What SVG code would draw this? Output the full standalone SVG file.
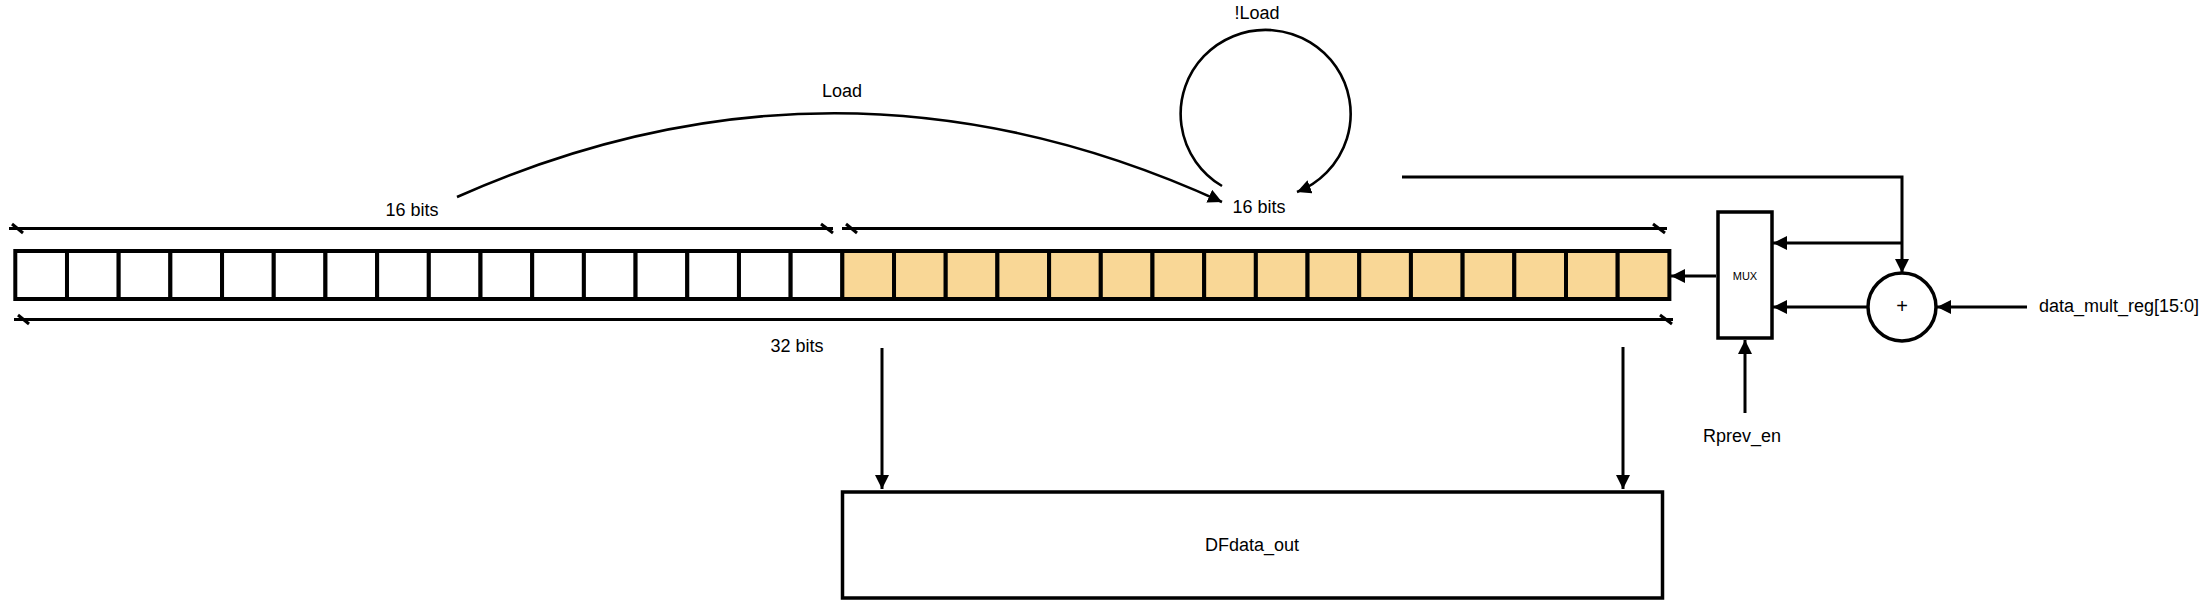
<svg xmlns="http://www.w3.org/2000/svg" width="2211" height="603" viewBox="0 0 2211 603">
<style>
  .bg{fill:#ffffff}
  .cell{fill:#ffffff;stroke:#000;stroke-width:4}
  .cell.hi{fill:#F9D796}
  .box{fill:#ffffff;stroke:#000;stroke-width:3.5}
  .ln{fill:none;stroke:#000;stroke-width:3}
  .arc{fill:none;stroke:#000;stroke-width:2.6}
  .tk{stroke:#000;stroke-width:3}
  .t{font-family:"Liberation Sans",Arial,sans-serif;font-size:18px;fill:#000;text-anchor:middle}
  .ts{font-family:"Liberation Sans",Arial,sans-serif;font-size:11px;fill:#000;text-anchor:middle}
</style>
<defs>
  <marker id="ah" markerUnits="userSpaceOnUse" markerWidth="15" markerHeight="15" refX="14" refY="7" orient="auto">
    <path d="M0,0 L14,7 L0,14 z" fill="#000"/>
  </marker>
</defs>
<rect class="bg" x="0" y="0" width="2211" height="603"/>

<g id="register">
  <rect class="cell" x="15.3" y="251" width="51.69" height="48"/>
  <rect class="cell" x="66.99" y="251" width="51.69" height="48"/>
  <rect class="cell" x="118.68" y="251" width="51.69" height="48"/>
  <rect class="cell" x="170.37" y="251" width="51.69" height="48"/>
  <rect class="cell" x="222.06" y="251" width="51.69" height="48"/>
  <rect class="cell" x="273.75" y="251" width="51.69" height="48"/>
  <rect class="cell" x="325.44" y="251" width="51.69" height="48"/>
  <rect class="cell" x="377.13" y="251" width="51.69" height="48"/>
  <rect class="cell" x="428.82" y="251" width="51.69" height="48"/>
  <rect class="cell" x="480.51" y="251" width="51.69" height="48"/>
  <rect class="cell" x="532.2" y="251" width="51.69" height="48"/>
  <rect class="cell" x="583.89" y="251" width="51.69" height="48"/>
  <rect class="cell" x="635.58" y="251" width="51.69" height="48"/>
  <rect class="cell" x="687.27" y="251" width="51.69" height="48"/>
  <rect class="cell" x="738.96" y="251" width="51.69" height="48"/>
  <rect class="cell" x="790.65" y="251" width="51.69" height="48"/>
  <rect class="cell hi" x="842.34" y="251" width="51.69" height="48"/>
  <rect class="cell hi" x="894.03" y="251" width="51.69" height="48"/>
  <rect class="cell hi" x="945.72" y="251" width="51.69" height="48"/>
  <rect class="cell hi" x="997.41" y="251" width="51.69" height="48"/>
  <rect class="cell hi" x="1049.1" y="251" width="51.69" height="48"/>
  <rect class="cell hi" x="1100.79" y="251" width="51.69" height="48"/>
  <rect class="cell hi" x="1152.48" y="251" width="51.69" height="48"/>
  <rect class="cell hi" x="1204.17" y="251" width="51.69" height="48"/>
  <rect class="cell hi" x="1255.86" y="251" width="51.69" height="48"/>
  <rect class="cell hi" x="1307.55" y="251" width="51.69" height="48"/>
  <rect class="cell hi" x="1359.24" y="251" width="51.69" height="48"/>
  <rect class="cell hi" x="1410.93" y="251" width="51.69" height="48"/>
  <rect class="cell hi" x="1462.62" y="251" width="51.69" height="48"/>
  <rect class="cell hi" x="1514.31" y="251" width="51.69" height="48"/>
  <rect class="cell hi" x="1566" y="251" width="51.69" height="48"/>
  <rect class="cell hi" x="1617.69" y="251" width="51.69" height="48"/>
</g>

<g id="dimensions">
  <line class="ln" x1="9" y1="228.5" x2="833" y2="228.5"/>
  <line class="tk" x1="12" y1="224" x2="23" y2="233"/>
  <line class="tk" x1="821" y1="224" x2="833" y2="233"/>
  <line class="ln" x1="842" y1="228.5" x2="1667" y2="228.5"/>
  <line class="tk" x1="846" y1="224" x2="857" y2="233"/>
  <line class="tk" x1="1653" y1="224" x2="1665" y2="233"/>
  <line class="ln" x1="14" y1="319.5" x2="1673" y2="319.5"/>
  <line class="tk" x1="18" y1="315" x2="29" y2="324"/>
  <line class="tk" x1="1660" y1="315" x2="1672" y2="324"/>
  <text class="t" x="412" y="216">16 bits</text>
  <text class="t" x="1259" y="213">16 bits</text>
  <text class="t" x="797" y="352">32 bits</text>
</g>

<g id="mux">
  <rect class="box" x="1718" y="212" width="54" height="126"/>
  <text class="ts" x="1745" y="280">MUX</text>
</g>

<g id="adder">
  <circle class="box" cx="1902" cy="307" r="34"/>
  <text class="t" x="1902" y="313" style="font-size:20px">+</text>
</g>

<g id="output">
  <rect class="box" x="842.5" y="492" width="820" height="106"/>
  <text class="t" x="1252" y="551">DFdata_out</text>
</g>

<g id="inputs">
  <text class="t" x="2119" y="312">data_mult_reg[15:0]</text>
  <text class="t" x="1742" y="442">Rprev_en</text>
  <text class="t" x="842" y="97">Load</text>
  <text class="t" x="1257" y="19">!Load</text>
</g>

<g id="connectors">
  <path class="ln" d="M1716,276 H1671" marker-end="url(#ah)"/>
  <path class="ln" d="M1402,177 H1902 V273" marker-end="url(#ah)"/>
  <path class="ln" d="M1902,243 H1773" marker-end="url(#ah)"/>
  <path class="ln" d="M1868,307 H1773" marker-end="url(#ah)"/>
  <path class="ln" d="M2027,307 H1937" marker-end="url(#ah)"/>
  <path class="ln" d="M1745,413 V340" marker-end="url(#ah)"/>
  <path class="ln" d="M882,348 V489" marker-end="url(#ah)"/>
  <path class="ln" d="M1623,347 V489" marker-end="url(#ah)"/>
  <path class="arc" d="M457,197 Q840,27 1222,202" marker-end="url(#ah)"/>
  <path class="arc" d="M1222,186 A85,84 0 1 1 1297,192" marker-end="url(#ah)"/>
</g>
</svg>
